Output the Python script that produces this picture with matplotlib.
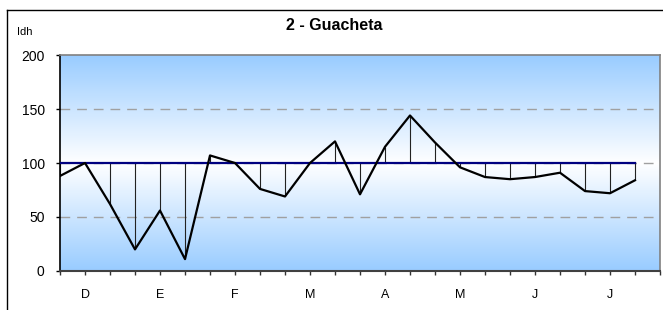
import numpy as np
import matplotlib
matplotlib.use('Agg')
import matplotlib.pyplot as plt
from matplotlib.colors import LinearSegmentedColormap
from matplotlib.lines import Line2D

plt.rcParams['font.family'] = ['Liberation Sans', 'DejaVu Sans']

# data
idh = [88, 100, 62, 20, 56, 11, 107, 100, 76, 69, 100, 120,
       71, 115, 144, 119, 96, 87, 85, 87, 91, 74, 72, 84]
normal = 100
month_labels = ['D', 'E', 'F', 'M', 'A', 'M', 'J', 'J']
month_pos = [1, 4, 7, 10, 13, 16, 19, 22]
y_ticks = [0, 50, 100, 150, 200]

fig = plt.figure(figsize=(6.63, 3.10), dpi=100)
ax = fig.add_axes([60 / 663, 39 / 310, 600 / 663, 216 / 310])

n_slots = len(idh)
x = np.arange(n_slots)

# background gradient: blue at edges, white in the middle
cmap = LinearSegmentedColormap.from_list('bg', ['#99ccff', '#ffffff', '#99ccff'])
grad = np.linspace(0, 1, 256).reshape(-1, 1)
ax.imshow(grad, cmap=cmap, aspect='auto', extent=[0, n_slots, 0, 200],
          origin='lower', zorder=0)

# dashed gridlines
for v in [50, 100, 150]:
    ax.axhline(v, color='#a0a0a0', lw=1.0, ls=(0, (7, 5)), zorder=1)

# drop lines between the series and the 100 line
ax.vlines(x, [normal] * n_slots, idh, color='#222222', lw=0.8, zorder=2)

ax.plot(x, [normal] * n_slots, color='#000080', lw=1.6, zorder=3)
ax.plot(x, idh, color='black', lw=1.6, zorder=4)

ax.set_xlim(0, n_slots)
ax.set_ylim(0, 200)

ax.set_yticks(y_ticks)
ax.set_yticklabels([str(v) for v in y_ticks], fontsize=10)

tick_pos = np.arange(n_slots + 1)
tick_lab = [''] * (n_slots + 1)
for p, m in zip(month_pos, month_labels):
    tick_lab[p] = m
ax.set_xticks(tick_pos)
ax.set_xticklabels(tick_lab, fontsize=9)
ax.tick_params(axis='x', length=3, width=1, color='#333333', pad=10)
ax.tick_params(axis='y', length=3, width=1, pad=8)

for s in ['top', 'right']:
    ax.spines[s].set_color('#808080')
    ax.spines[s].set_linewidth(1.2)
ax.spines['left'].set_color('black')
ax.spines['left'].set_linewidth(1.2)
ax.spines['bottom'].set_color('#404040')
ax.spines['bottom'].set_linewidth(1.5)

fig.text(334 / 663, 1 - 26 / 310, '2 - Guacheta', ha='center', va='center',
         fontsize=11.5, fontweight='bold')
fig.text(17 / 663, 1 - 32 / 310, 'Idh', ha='left', va='center', fontsize=8)

# outer chart border (cut at right and bottom)
fig.add_artist(Line2D([6.5 / 663, 6.5 / 663], [0, 1 - 10 / 310],
                      transform=fig.transFigure, color='black', lw=1))
fig.add_artist(Line2D([6.5 / 663, 1], [1 - 10 / 310, 1 - 10 / 310],
                      transform=fig.transFigure, color='black', lw=1))

fig.savefig('out.png', dpi=100)
